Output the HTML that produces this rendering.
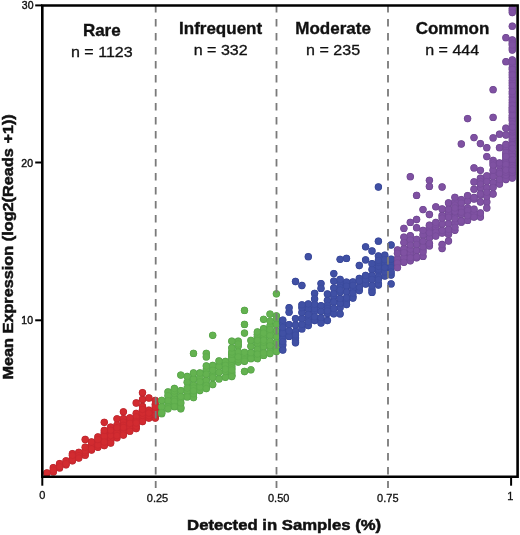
<!DOCTYPE html>
<html><head><meta charset="utf-8"><style>
html,body{margin:0;padding:0;background:#fff;}
body{width:520px;height:535px;overflow:hidden;position:relative;font-family:"Liberation Sans",sans-serif;color:#111;}
svg{position:absolute;left:0;top:0;will-change:transform;}
</style></head><body>
<svg width="520" height="535" viewBox="0 0 520 535" font-family="Liberation Sans, sans-serif">
<g>
<g fill="#b0242b"><circle cx="117.0" cy="437.8" r="3.65"/><circle cx="104.3" cy="444.0" r="3.65"/><circle cx="110.7" cy="437.2" r="3.65"/><circle cx="123.4" cy="430.4" r="3.65"/><circle cx="142.5" cy="418.6" r="3.65"/><circle cx="155.3" cy="400.5" r="3.65"/><circle cx="117.0" cy="418.8" r="3.65"/><circle cx="110.7" cy="432.6" r="3.65"/><circle cx="129.8" cy="429.2" r="3.65"/><circle cx="85.2" cy="455.2" r="3.65"/><circle cx="91.5" cy="450.0" r="3.65"/><circle cx="91.5" cy="445.1" r="3.65"/><circle cx="155.3" cy="410.2" r="3.65"/><circle cx="110.7" cy="440.8" r="3.65"/><circle cx="148.9" cy="410.2" r="3.65"/><circle cx="129.8" cy="427.4" r="3.65"/><circle cx="148.9" cy="418.1" r="3.65"/><circle cx="123.4" cy="418.6" r="3.65"/><circle cx="123.4" cy="422.1" r="3.65"/><circle cx="142.5" cy="399.5" r="3.65"/><circle cx="155.3" cy="404.4" r="3.65"/><circle cx="66.0" cy="464.8" r="3.65"/><circle cx="85.2" cy="452.6" r="3.65"/><circle cx="91.5" cy="448.9" r="3.65"/><circle cx="123.4" cy="433.2" r="3.65"/><circle cx="72.4" cy="458.1" r="3.65"/><circle cx="136.2" cy="403.0" r="3.65"/><circle cx="72.4" cy="460.8" r="3.65"/><circle cx="85.2" cy="450.8" r="3.65"/><circle cx="123.4" cy="425.3" r="3.65"/><circle cx="66.0" cy="460.9" r="3.65"/><circle cx="72.4" cy="459.7" r="3.65"/><circle cx="110.7" cy="438.8" r="3.65"/><circle cx="136.2" cy="413.4" r="3.65"/><circle cx="104.3" cy="438.6" r="3.65"/><circle cx="110.7" cy="435.5" r="3.65"/><circle cx="97.9" cy="443.4" r="3.65"/><circle cx="110.7" cy="427.1" r="3.65"/><circle cx="155.3" cy="411.9" r="3.65"/><circle cx="136.2" cy="418.7" r="3.65"/><circle cx="142.5" cy="406.5" r="3.65"/><circle cx="97.9" cy="447.3" r="3.65"/><circle cx="59.6" cy="463.6" r="3.65"/><circle cx="136.2" cy="416.8" r="3.65"/><circle cx="155.3" cy="418.1" r="3.65"/><circle cx="78.8" cy="454.0" r="3.65"/><circle cx="97.9" cy="445.0" r="3.65"/><circle cx="78.8" cy="452.3" r="3.65"/><circle cx="110.7" cy="430.2" r="3.65"/><circle cx="104.3" cy="432.6" r="3.65"/><circle cx="117.0" cy="430.0" r="3.65"/><circle cx="53.3" cy="467.7" r="3.65"/><circle cx="123.4" cy="427.4" r="3.65"/><circle cx="136.2" cy="428.6" r="3.65"/><circle cx="104.3" cy="434.5" r="3.65"/><circle cx="97.9" cy="437.0" r="3.65"/><circle cx="117.0" cy="432.9" r="3.65"/><circle cx="91.5" cy="442.0" r="3.65"/><circle cx="59.6" cy="467.9" r="3.65"/><circle cx="85.2" cy="439.5" r="3.65"/><circle cx="104.3" cy="445.6" r="3.65"/><circle cx="66.0" cy="463.7" r="3.65"/><circle cx="129.8" cy="421.2" r="3.65"/><circle cx="53.3" cy="471.9" r="3.65"/><circle cx="142.5" cy="421.5" r="3.65"/><circle cx="142.5" cy="392.7" r="3.65"/><circle cx="148.9" cy="415.8" r="3.65"/><circle cx="129.8" cy="431.2" r="3.65"/><circle cx="142.5" cy="415.4" r="3.65"/><circle cx="78.8" cy="455.7" r="3.65"/><circle cx="123.4" cy="411.8" r="3.65"/><circle cx="117.0" cy="435.6" r="3.65"/><circle cx="129.8" cy="417.9" r="3.65"/><circle cx="148.9" cy="398.0" r="3.65"/><circle cx="155.3" cy="407.0" r="3.65"/><circle cx="104.3" cy="436.3" r="3.65"/><circle cx="142.5" cy="413.1" r="3.65"/><circle cx="123.4" cy="435.1" r="3.65"/><circle cx="104.3" cy="422.3" r="3.65"/><circle cx="110.7" cy="443.0" r="3.65"/><circle cx="136.2" cy="426.2" r="3.65"/><circle cx="85.2" cy="447.2" r="3.65"/><circle cx="129.8" cy="423.4" r="3.65"/><circle cx="136.2" cy="421.4" r="3.65"/><circle cx="72.4" cy="453.7" r="3.65"/><circle cx="97.9" cy="439.5" r="3.65"/><circle cx="142.5" cy="409.4" r="3.65"/><circle cx="148.9" cy="413.1" r="3.65"/><circle cx="104.3" cy="442.1" r="3.65"/><circle cx="53.3" cy="470.0" r="3.65"/><circle cx="117.0" cy="425.1" r="3.65"/><circle cx="59.6" cy="466.7" r="3.65"/><circle cx="136.2" cy="423.0" r="3.65"/><circle cx="117.0" cy="427.7" r="3.65"/><circle cx="78.8" cy="458.0" r="3.65"/><circle cx="155.3" cy="415.1" r="3.65"/><circle cx="104.3" cy="430.4" r="3.65"/><circle cx="72.4" cy="455.3" r="3.65"/><circle cx="46.9" cy="473.0" r="3.65"/></g><g fill="#d22b30" stroke="#bf272d" stroke-width="0.35"><circle cx="117.0" cy="437.8" r="3.3"/><circle cx="104.3" cy="444.0" r="3.3"/><circle cx="110.7" cy="437.2" r="3.3"/><circle cx="123.4" cy="430.4" r="3.3"/><circle cx="142.5" cy="418.6" r="3.3"/><circle cx="155.3" cy="400.5" r="3.3"/><circle cx="117.0" cy="418.8" r="3.3"/><circle cx="110.7" cy="432.6" r="3.3"/><circle cx="129.8" cy="429.2" r="3.3"/><circle cx="85.2" cy="455.2" r="3.3"/><circle cx="91.5" cy="450.0" r="3.3"/><circle cx="91.5" cy="445.1" r="3.3"/><circle cx="155.3" cy="410.2" r="3.3"/><circle cx="110.7" cy="440.8" r="3.3"/><circle cx="148.9" cy="410.2" r="3.3"/><circle cx="129.8" cy="427.4" r="3.3"/><circle cx="148.9" cy="418.1" r="3.3"/><circle cx="123.4" cy="418.6" r="3.3"/><circle cx="123.4" cy="422.1" r="3.3"/><circle cx="142.5" cy="399.5" r="3.3"/><circle cx="155.3" cy="404.4" r="3.3"/><circle cx="66.0" cy="464.8" r="3.3"/><circle cx="85.2" cy="452.6" r="3.3"/><circle cx="91.5" cy="448.9" r="3.3"/><circle cx="123.4" cy="433.2" r="3.3"/><circle cx="72.4" cy="458.1" r="3.3"/><circle cx="136.2" cy="403.0" r="3.3"/><circle cx="72.4" cy="460.8" r="3.3"/><circle cx="85.2" cy="450.8" r="3.3"/><circle cx="123.4" cy="425.3" r="3.3"/><circle cx="66.0" cy="460.9" r="3.3"/><circle cx="72.4" cy="459.7" r="3.3"/><circle cx="110.7" cy="438.8" r="3.3"/><circle cx="136.2" cy="413.4" r="3.3"/><circle cx="104.3" cy="438.6" r="3.3"/><circle cx="110.7" cy="435.5" r="3.3"/><circle cx="97.9" cy="443.4" r="3.3"/><circle cx="110.7" cy="427.1" r="3.3"/><circle cx="155.3" cy="411.9" r="3.3"/><circle cx="136.2" cy="418.7" r="3.3"/><circle cx="142.5" cy="406.5" r="3.3"/><circle cx="97.9" cy="447.3" r="3.3"/><circle cx="59.6" cy="463.6" r="3.3"/><circle cx="136.2" cy="416.8" r="3.3"/><circle cx="155.3" cy="418.1" r="3.3"/><circle cx="78.8" cy="454.0" r="3.3"/><circle cx="97.9" cy="445.0" r="3.3"/><circle cx="78.8" cy="452.3" r="3.3"/><circle cx="110.7" cy="430.2" r="3.3"/><circle cx="104.3" cy="432.6" r="3.3"/><circle cx="117.0" cy="430.0" r="3.3"/><circle cx="53.3" cy="467.7" r="3.3"/><circle cx="123.4" cy="427.4" r="3.3"/><circle cx="136.2" cy="428.6" r="3.3"/><circle cx="104.3" cy="434.5" r="3.3"/><circle cx="97.9" cy="437.0" r="3.3"/><circle cx="117.0" cy="432.9" r="3.3"/><circle cx="91.5" cy="442.0" r="3.3"/><circle cx="59.6" cy="467.9" r="3.3"/><circle cx="85.2" cy="439.5" r="3.3"/><circle cx="104.3" cy="445.6" r="3.3"/><circle cx="66.0" cy="463.7" r="3.3"/><circle cx="129.8" cy="421.2" r="3.3"/><circle cx="53.3" cy="471.9" r="3.3"/><circle cx="142.5" cy="421.5" r="3.3"/><circle cx="142.5" cy="392.7" r="3.3"/><circle cx="148.9" cy="415.8" r="3.3"/><circle cx="129.8" cy="431.2" r="3.3"/><circle cx="142.5" cy="415.4" r="3.3"/><circle cx="78.8" cy="455.7" r="3.3"/><circle cx="123.4" cy="411.8" r="3.3"/><circle cx="117.0" cy="435.6" r="3.3"/><circle cx="129.8" cy="417.9" r="3.3"/><circle cx="148.9" cy="398.0" r="3.3"/><circle cx="155.3" cy="407.0" r="3.3"/><circle cx="104.3" cy="436.3" r="3.3"/><circle cx="142.5" cy="413.1" r="3.3"/><circle cx="123.4" cy="435.1" r="3.3"/><circle cx="104.3" cy="422.3" r="3.3"/><circle cx="110.7" cy="443.0" r="3.3"/><circle cx="136.2" cy="426.2" r="3.3"/><circle cx="85.2" cy="447.2" r="3.3"/><circle cx="129.8" cy="423.4" r="3.3"/><circle cx="136.2" cy="421.4" r="3.3"/><circle cx="72.4" cy="453.7" r="3.3"/><circle cx="97.9" cy="439.5" r="3.3"/><circle cx="142.5" cy="409.4" r="3.3"/><circle cx="148.9" cy="413.1" r="3.3"/><circle cx="104.3" cy="442.1" r="3.3"/><circle cx="53.3" cy="470.0" r="3.3"/><circle cx="117.0" cy="425.1" r="3.3"/><circle cx="59.6" cy="466.7" r="3.3"/><circle cx="136.2" cy="423.0" r="3.3"/><circle cx="117.0" cy="427.7" r="3.3"/><circle cx="78.8" cy="458.0" r="3.3"/><circle cx="155.3" cy="415.1" r="3.3"/><circle cx="104.3" cy="430.4" r="3.3"/><circle cx="72.4" cy="455.3" r="3.3"/><circle cx="46.9" cy="473.0" r="3.3"/></g><g fill="#4c9a40"><circle cx="180.8" cy="408.8" r="3.65"/><circle cx="180.8" cy="407.4" r="3.65"/><circle cx="257.3" cy="358.7" r="3.65"/><circle cx="238.2" cy="362.0" r="3.65"/><circle cx="231.8" cy="375.2" r="3.65"/><circle cx="250.9" cy="356.8" r="3.65"/><circle cx="212.7" cy="365.5" r="3.65"/><circle cx="270.0" cy="333.1" r="3.65"/><circle cx="257.3" cy="343.6" r="3.65"/><circle cx="238.2" cy="341.2" r="3.65"/><circle cx="257.3" cy="336.8" r="3.65"/><circle cx="168.0" cy="402.8" r="3.65"/><circle cx="187.2" cy="376.5" r="3.65"/><circle cx="263.6" cy="346.7" r="3.65"/><circle cx="276.4" cy="315.9" r="3.65"/><circle cx="263.6" cy="328.7" r="3.65"/><circle cx="199.9" cy="377.2" r="3.65"/><circle cx="193.5" cy="379.0" r="3.65"/><circle cx="180.8" cy="398.9" r="3.65"/><circle cx="206.3" cy="369.7" r="3.65"/><circle cx="270.0" cy="351.2" r="3.65"/><circle cx="193.5" cy="397.6" r="3.65"/><circle cx="257.3" cy="352.0" r="3.65"/><circle cx="231.8" cy="356.6" r="3.65"/><circle cx="168.0" cy="392.0" r="3.65"/><circle cx="257.3" cy="349.3" r="3.65"/><circle cx="250.9" cy="369.8" r="3.65"/><circle cx="219.0" cy="378.9" r="3.65"/><circle cx="263.6" cy="355.4" r="3.65"/><circle cx="231.8" cy="372.7" r="3.65"/><circle cx="238.2" cy="346.1" r="3.65"/><circle cx="225.4" cy="377.3" r="3.65"/><circle cx="187.2" cy="395.2" r="3.65"/><circle cx="263.6" cy="335.7" r="3.65"/><circle cx="238.2" cy="352.0" r="3.65"/><circle cx="168.0" cy="395.7" r="3.65"/><circle cx="174.4" cy="398.7" r="3.65"/><circle cx="238.2" cy="359.5" r="3.65"/><circle cx="250.9" cy="358.7" r="3.65"/><circle cx="231.8" cy="362.3" r="3.65"/><circle cx="231.8" cy="359.5" r="3.65"/><circle cx="250.9" cy="346.2" r="3.65"/><circle cx="244.5" cy="355.9" r="3.65"/><circle cx="174.4" cy="393.3" r="3.65"/><circle cx="250.9" cy="352.7" r="3.65"/><circle cx="231.8" cy="354.3" r="3.65"/><circle cx="270.0" cy="335.8" r="3.65"/><circle cx="276.4" cy="293.8" r="3.65"/><circle cx="231.8" cy="365.8" r="3.65"/><circle cx="244.5" cy="371.5" r="3.65"/><circle cx="270.0" cy="353.5" r="3.65"/><circle cx="238.2" cy="356.8" r="3.65"/><circle cx="257.3" cy="334.4" r="3.65"/><circle cx="212.7" cy="384.5" r="3.65"/><circle cx="168.0" cy="400.7" r="3.65"/><circle cx="270.0" cy="326.2" r="3.65"/><circle cx="244.5" cy="310.4" r="3.65"/><circle cx="212.7" cy="375.3" r="3.65"/><circle cx="180.8" cy="390.6" r="3.65"/><circle cx="257.3" cy="332.0" r="3.65"/><circle cx="187.2" cy="391.3" r="3.65"/><circle cx="219.0" cy="366.5" r="3.65"/><circle cx="180.8" cy="375.1" r="3.65"/><circle cx="263.6" cy="333.1" r="3.65"/><circle cx="263.6" cy="342.3" r="3.65"/><circle cx="276.4" cy="336.8" r="3.65"/><circle cx="168.0" cy="406.9" r="3.65"/><circle cx="206.3" cy="380.5" r="3.65"/><circle cx="193.5" cy="385.3" r="3.65"/><circle cx="270.0" cy="329.4" r="3.65"/><circle cx="161.7" cy="406.9" r="3.65"/><circle cx="187.2" cy="382.2" r="3.65"/><circle cx="231.8" cy="341.2" r="3.65"/><circle cx="244.5" cy="324.4" r="3.65"/><circle cx="199.9" cy="390.5" r="3.65"/><circle cx="199.9" cy="385.0" r="3.65"/><circle cx="244.5" cy="359.5" r="3.65"/><circle cx="199.9" cy="387.0" r="3.65"/><circle cx="174.4" cy="404.4" r="3.65"/><circle cx="199.9" cy="381.8" r="3.65"/><circle cx="206.3" cy="385.6" r="3.65"/><circle cx="206.3" cy="366.0" r="3.65"/><circle cx="212.7" cy="370.3" r="3.65"/><circle cx="257.3" cy="354.1" r="3.65"/><circle cx="199.9" cy="373.0" r="3.65"/><circle cx="270.0" cy="314.1" r="3.65"/><circle cx="263.6" cy="353.1" r="3.65"/><circle cx="244.5" cy="352.3" r="3.65"/><circle cx="244.5" cy="333.1" r="3.65"/><circle cx="161.7" cy="400.4" r="3.65"/><circle cx="180.8" cy="402.9" r="3.65"/><circle cx="161.7" cy="413.7" r="3.65"/><circle cx="206.3" cy="353.4" r="3.65"/><circle cx="225.4" cy="361.5" r="3.65"/><circle cx="225.4" cy="365.3" r="3.65"/><circle cx="187.2" cy="396.9" r="3.65"/><circle cx="276.4" cy="342.5" r="3.65"/><circle cx="244.5" cy="361.3" r="3.65"/><circle cx="174.4" cy="401.3" r="3.65"/><circle cx="193.5" cy="393.8" r="3.65"/><circle cx="225.4" cy="371.5" r="3.65"/><circle cx="238.2" cy="344.0" r="3.65"/><circle cx="231.8" cy="376.5" r="3.65"/><circle cx="174.4" cy="406.7" r="3.65"/><circle cx="206.3" cy="374.2" r="3.65"/><circle cx="193.5" cy="388.0" r="3.65"/><circle cx="231.8" cy="352.0" r="3.65"/><circle cx="250.9" cy="340.4" r="3.65"/><circle cx="180.8" cy="396.5" r="3.65"/><circle cx="174.4" cy="391.0" r="3.65"/><circle cx="276.4" cy="348.1" r="3.65"/><circle cx="270.0" cy="341.3" r="3.65"/><circle cx="263.6" cy="340.2" r="3.65"/><circle cx="187.2" cy="388.1" r="3.65"/><circle cx="206.3" cy="388.5" r="3.65"/><circle cx="193.5" cy="390.8" r="3.65"/><circle cx="212.7" cy="335.3" r="3.65"/><circle cx="225.4" cy="369.1" r="3.65"/><circle cx="257.3" cy="340.4" r="3.65"/><circle cx="168.0" cy="408.8" r="3.65"/><circle cx="219.0" cy="361.0" r="3.65"/><circle cx="193.5" cy="353.4" r="3.65"/><circle cx="161.7" cy="412.6" r="3.65"/><circle cx="219.0" cy="372.4" r="3.65"/><circle cx="276.4" cy="318.9" r="3.65"/><circle cx="174.4" cy="388.5" r="3.65"/><circle cx="276.4" cy="351.5" r="3.65"/><circle cx="231.8" cy="348.0" r="3.65"/><circle cx="206.3" cy="356.9" r="3.65"/><circle cx="193.5" cy="373.0" r="3.65"/><circle cx="276.4" cy="324.6" r="3.65"/><circle cx="270.0" cy="321.1" r="3.65"/><circle cx="263.6" cy="319.3" r="3.65"/><circle cx="231.8" cy="368.0" r="3.65"/><circle cx="276.4" cy="331.0" r="3.65"/><circle cx="231.8" cy="370.0" r="3.65"/><circle cx="270.0" cy="345.7" r="3.65"/><circle cx="212.7" cy="377.6" r="3.65"/></g><g fill="#64b250" stroke="#57a547" stroke-width="0.35"><circle cx="180.8" cy="408.8" r="3.3"/><circle cx="180.8" cy="407.4" r="3.3"/><circle cx="257.3" cy="358.7" r="3.3"/><circle cx="238.2" cy="362.0" r="3.3"/><circle cx="231.8" cy="375.2" r="3.3"/><circle cx="250.9" cy="356.8" r="3.3"/><circle cx="212.7" cy="365.5" r="3.3"/><circle cx="270.0" cy="333.1" r="3.3"/><circle cx="257.3" cy="343.6" r="3.3"/><circle cx="238.2" cy="341.2" r="3.3"/><circle cx="257.3" cy="336.8" r="3.3"/><circle cx="168.0" cy="402.8" r="3.3"/><circle cx="187.2" cy="376.5" r="3.3"/><circle cx="263.6" cy="346.7" r="3.3"/><circle cx="276.4" cy="315.9" r="3.3"/><circle cx="263.6" cy="328.7" r="3.3"/><circle cx="199.9" cy="377.2" r="3.3"/><circle cx="193.5" cy="379.0" r="3.3"/><circle cx="180.8" cy="398.9" r="3.3"/><circle cx="206.3" cy="369.7" r="3.3"/><circle cx="270.0" cy="351.2" r="3.3"/><circle cx="193.5" cy="397.6" r="3.3"/><circle cx="257.3" cy="352.0" r="3.3"/><circle cx="231.8" cy="356.6" r="3.3"/><circle cx="168.0" cy="392.0" r="3.3"/><circle cx="257.3" cy="349.3" r="3.3"/><circle cx="250.9" cy="369.8" r="3.3"/><circle cx="219.0" cy="378.9" r="3.3"/><circle cx="263.6" cy="355.4" r="3.3"/><circle cx="231.8" cy="372.7" r="3.3"/><circle cx="238.2" cy="346.1" r="3.3"/><circle cx="225.4" cy="377.3" r="3.3"/><circle cx="187.2" cy="395.2" r="3.3"/><circle cx="263.6" cy="335.7" r="3.3"/><circle cx="238.2" cy="352.0" r="3.3"/><circle cx="168.0" cy="395.7" r="3.3"/><circle cx="174.4" cy="398.7" r="3.3"/><circle cx="238.2" cy="359.5" r="3.3"/><circle cx="250.9" cy="358.7" r="3.3"/><circle cx="231.8" cy="362.3" r="3.3"/><circle cx="231.8" cy="359.5" r="3.3"/><circle cx="250.9" cy="346.2" r="3.3"/><circle cx="244.5" cy="355.9" r="3.3"/><circle cx="174.4" cy="393.3" r="3.3"/><circle cx="250.9" cy="352.7" r="3.3"/><circle cx="231.8" cy="354.3" r="3.3"/><circle cx="270.0" cy="335.8" r="3.3"/><circle cx="276.4" cy="293.8" r="3.3"/><circle cx="231.8" cy="365.8" r="3.3"/><circle cx="244.5" cy="371.5" r="3.3"/><circle cx="270.0" cy="353.5" r="3.3"/><circle cx="238.2" cy="356.8" r="3.3"/><circle cx="257.3" cy="334.4" r="3.3"/><circle cx="212.7" cy="384.5" r="3.3"/><circle cx="168.0" cy="400.7" r="3.3"/><circle cx="270.0" cy="326.2" r="3.3"/><circle cx="244.5" cy="310.4" r="3.3"/><circle cx="212.7" cy="375.3" r="3.3"/><circle cx="180.8" cy="390.6" r="3.3"/><circle cx="257.3" cy="332.0" r="3.3"/><circle cx="187.2" cy="391.3" r="3.3"/><circle cx="219.0" cy="366.5" r="3.3"/><circle cx="180.8" cy="375.1" r="3.3"/><circle cx="263.6" cy="333.1" r="3.3"/><circle cx="263.6" cy="342.3" r="3.3"/><circle cx="276.4" cy="336.8" r="3.3"/><circle cx="168.0" cy="406.9" r="3.3"/><circle cx="206.3" cy="380.5" r="3.3"/><circle cx="193.5" cy="385.3" r="3.3"/><circle cx="270.0" cy="329.4" r="3.3"/><circle cx="161.7" cy="406.9" r="3.3"/><circle cx="187.2" cy="382.2" r="3.3"/><circle cx="231.8" cy="341.2" r="3.3"/><circle cx="244.5" cy="324.4" r="3.3"/><circle cx="199.9" cy="390.5" r="3.3"/><circle cx="199.9" cy="385.0" r="3.3"/><circle cx="244.5" cy="359.5" r="3.3"/><circle cx="199.9" cy="387.0" r="3.3"/><circle cx="174.4" cy="404.4" r="3.3"/><circle cx="199.9" cy="381.8" r="3.3"/><circle cx="206.3" cy="385.6" r="3.3"/><circle cx="206.3" cy="366.0" r="3.3"/><circle cx="212.7" cy="370.3" r="3.3"/><circle cx="257.3" cy="354.1" r="3.3"/><circle cx="199.9" cy="373.0" r="3.3"/><circle cx="270.0" cy="314.1" r="3.3"/><circle cx="263.6" cy="353.1" r="3.3"/><circle cx="244.5" cy="352.3" r="3.3"/><circle cx="244.5" cy="333.1" r="3.3"/><circle cx="161.7" cy="400.4" r="3.3"/><circle cx="180.8" cy="402.9" r="3.3"/><circle cx="161.7" cy="413.7" r="3.3"/><circle cx="206.3" cy="353.4" r="3.3"/><circle cx="225.4" cy="361.5" r="3.3"/><circle cx="225.4" cy="365.3" r="3.3"/><circle cx="187.2" cy="396.9" r="3.3"/><circle cx="276.4" cy="342.5" r="3.3"/><circle cx="244.5" cy="361.3" r="3.3"/><circle cx="174.4" cy="401.3" r="3.3"/><circle cx="193.5" cy="393.8" r="3.3"/><circle cx="225.4" cy="371.5" r="3.3"/><circle cx="238.2" cy="344.0" r="3.3"/><circle cx="231.8" cy="376.5" r="3.3"/><circle cx="174.4" cy="406.7" r="3.3"/><circle cx="206.3" cy="374.2" r="3.3"/><circle cx="193.5" cy="388.0" r="3.3"/><circle cx="231.8" cy="352.0" r="3.3"/><circle cx="250.9" cy="340.4" r="3.3"/><circle cx="180.8" cy="396.5" r="3.3"/><circle cx="174.4" cy="391.0" r="3.3"/><circle cx="276.4" cy="348.1" r="3.3"/><circle cx="270.0" cy="341.3" r="3.3"/><circle cx="263.6" cy="340.2" r="3.3"/><circle cx="187.2" cy="388.1" r="3.3"/><circle cx="206.3" cy="388.5" r="3.3"/><circle cx="193.5" cy="390.8" r="3.3"/><circle cx="212.7" cy="335.3" r="3.3"/><circle cx="225.4" cy="369.1" r="3.3"/><circle cx="257.3" cy="340.4" r="3.3"/><circle cx="168.0" cy="408.8" r="3.3"/><circle cx="219.0" cy="361.0" r="3.3"/><circle cx="193.5" cy="353.4" r="3.3"/><circle cx="161.7" cy="412.6" r="3.3"/><circle cx="219.0" cy="372.4" r="3.3"/><circle cx="276.4" cy="318.9" r="3.3"/><circle cx="174.4" cy="388.5" r="3.3"/><circle cx="276.4" cy="351.5" r="3.3"/><circle cx="231.8" cy="348.0" r="3.3"/><circle cx="206.3" cy="356.9" r="3.3"/><circle cx="193.5" cy="373.0" r="3.3"/><circle cx="276.4" cy="324.6" r="3.3"/><circle cx="270.0" cy="321.1" r="3.3"/><circle cx="263.6" cy="319.3" r="3.3"/><circle cx="231.8" cy="368.0" r="3.3"/><circle cx="276.4" cy="331.0" r="3.3"/><circle cx="231.8" cy="370.0" r="3.3"/><circle cx="270.0" cy="345.7" r="3.3"/><circle cx="212.7" cy="377.6" r="3.3"/></g><g fill="#323f90"><circle cx="340.1" cy="283.0" r="3.65"/><circle cx="308.3" cy="308.9" r="3.65"/><circle cx="282.8" cy="323.1" r="3.65"/><circle cx="295.5" cy="341.0" r="3.65"/><circle cx="333.8" cy="281.1" r="3.65"/><circle cx="340.1" cy="287.4" r="3.65"/><circle cx="295.5" cy="331.3" r="3.65"/><circle cx="282.8" cy="331.0" r="3.65"/><circle cx="295.5" cy="281.5" r="3.65"/><circle cx="384.8" cy="263.2" r="3.65"/><circle cx="359.3" cy="290.6" r="3.65"/><circle cx="295.5" cy="338.0" r="3.65"/><circle cx="352.9" cy="296.2" r="3.65"/><circle cx="352.9" cy="282.0" r="3.65"/><circle cx="333.8" cy="273.6" r="3.65"/><circle cx="391.1" cy="265.0" r="3.65"/><circle cx="308.3" cy="256.7" r="3.65"/><circle cx="359.3" cy="278.5" r="3.65"/><circle cx="289.1" cy="312.2" r="3.65"/><circle cx="327.4" cy="300.3" r="3.65"/><circle cx="289.1" cy="324.6" r="3.65"/><circle cx="378.4" cy="285.0" r="3.65"/><circle cx="327.4" cy="320.5" r="3.65"/><circle cx="378.4" cy="271.3" r="3.65"/><circle cx="295.5" cy="325.0" r="3.65"/><circle cx="372.0" cy="289.7" r="3.65"/><circle cx="346.5" cy="300.6" r="3.65"/><circle cx="314.6" cy="293.4" r="3.65"/><circle cx="378.4" cy="269.2" r="3.65"/><circle cx="321.0" cy="305.7" r="3.65"/><circle cx="333.8" cy="296.3" r="3.65"/><circle cx="384.8" cy="276.0" r="3.65"/><circle cx="289.1" cy="334.9" r="3.65"/><circle cx="314.6" cy="311.3" r="3.65"/><circle cx="346.5" cy="282.1" r="3.65"/><circle cx="340.1" cy="313.9" r="3.65"/><circle cx="365.6" cy="259.9" r="3.65"/><circle cx="352.9" cy="298.1" r="3.65"/><circle cx="340.1" cy="307.8" r="3.65"/><circle cx="346.5" cy="286.1" r="3.65"/><circle cx="378.4" cy="241.2" r="3.65"/><circle cx="378.4" cy="283.8" r="3.65"/><circle cx="365.6" cy="246.8" r="3.65"/><circle cx="391.1" cy="283.9" r="3.65"/><circle cx="384.8" cy="255.2" r="3.65"/><circle cx="308.3" cy="325.6" r="3.65"/><circle cx="289.1" cy="307.7" r="3.65"/><circle cx="282.8" cy="345.0" r="3.65"/><circle cx="372.0" cy="269.4" r="3.65"/><circle cx="346.5" cy="292.0" r="3.65"/><circle cx="391.1" cy="245.0" r="3.65"/><circle cx="365.6" cy="284.0" r="3.65"/><circle cx="282.8" cy="335.3" r="3.65"/><circle cx="301.9" cy="328.9" r="3.65"/><circle cx="378.4" cy="276.9" r="3.65"/><circle cx="340.1" cy="259.3" r="3.65"/><circle cx="314.6" cy="308.4" r="3.65"/><circle cx="314.6" cy="320.5" r="3.65"/><circle cx="372.0" cy="251.0" r="3.65"/><circle cx="372.0" cy="263.7" r="3.65"/><circle cx="282.8" cy="338.6" r="3.65"/><circle cx="372.0" cy="275.5" r="3.65"/><circle cx="391.1" cy="275.0" r="3.65"/><circle cx="359.3" cy="287.2" r="3.65"/><circle cx="295.5" cy="335.0" r="3.65"/><circle cx="301.9" cy="324.4" r="3.65"/><circle cx="289.1" cy="336.4" r="3.65"/><circle cx="352.9" cy="288.4" r="3.65"/><circle cx="346.5" cy="258.4" r="3.65"/><circle cx="333.8" cy="288.0" r="3.65"/><circle cx="359.3" cy="281.1" r="3.65"/><circle cx="321.0" cy="283.6" r="3.65"/><circle cx="282.8" cy="350.0" r="3.65"/><circle cx="282.8" cy="320.1" r="3.65"/><circle cx="333.8" cy="302.0" r="3.65"/><circle cx="333.8" cy="293.6" r="3.65"/><circle cx="327.4" cy="305.5" r="3.65"/><circle cx="282.8" cy="333.2" r="3.65"/><circle cx="359.3" cy="265.5" r="3.65"/><circle cx="378.4" cy="266.4" r="3.65"/><circle cx="314.6" cy="298.9" r="3.65"/><circle cx="327.4" cy="308.3" r="3.65"/><circle cx="327.4" cy="313.5" r="3.65"/><circle cx="346.5" cy="304.5" r="3.65"/><circle cx="321.0" cy="288.4" r="3.65"/><circle cx="378.4" cy="256.0" r="3.65"/><circle cx="384.8" cy="272.0" r="3.65"/><circle cx="372.0" cy="279.4" r="3.65"/><circle cx="378.4" cy="187.0" r="3.65"/><circle cx="301.9" cy="318.6" r="3.65"/><circle cx="346.5" cy="297.7" r="3.65"/><circle cx="372.0" cy="292.4" r="3.65"/><circle cx="333.8" cy="313.8" r="3.65"/><circle cx="352.9" cy="293.0" r="3.65"/><circle cx="295.5" cy="318.6" r="3.65"/><circle cx="321.0" cy="311.3" r="3.65"/><circle cx="340.1" cy="303.4" r="3.65"/><circle cx="391.1" cy="267.5" r="3.65"/><circle cx="333.8" cy="308.4" r="3.65"/><circle cx="282.8" cy="341.7" r="3.65"/><circle cx="365.6" cy="279.6" r="3.65"/><circle cx="384.8" cy="259.7" r="3.65"/><circle cx="308.3" cy="316.9" r="3.65"/><circle cx="321.0" cy="321.5" r="3.65"/><circle cx="301.9" cy="312.5" r="3.65"/><circle cx="340.1" cy="279.4" r="3.65"/><circle cx="378.4" cy="262.4" r="3.65"/><circle cx="391.1" cy="272.0" r="3.65"/><circle cx="321.0" cy="323.0" r="3.65"/><circle cx="327.4" cy="294.0" r="3.65"/><circle cx="365.6" cy="275.5" r="3.65"/><circle cx="282.8" cy="327.4" r="3.65"/><circle cx="301.9" cy="307.7" r="3.65"/><circle cx="340.1" cy="298.5" r="3.65"/><circle cx="372.0" cy="285.5" r="3.65"/><circle cx="308.3" cy="314.5" r="3.65"/><circle cx="321.0" cy="317.7" r="3.65"/><circle cx="301.9" cy="285.5" r="3.65"/><circle cx="314.6" cy="304.3" r="3.65"/><circle cx="384.8" cy="267.5" r="3.65"/><circle cx="340.1" cy="292.1" r="3.65"/><circle cx="314.6" cy="316.8" r="3.65"/><circle cx="295.5" cy="342.8" r="3.65"/><circle cx="289.1" cy="330.9" r="3.65"/><circle cx="308.3" cy="304.0" r="3.65"/><circle cx="301.9" cy="304.8" r="3.65"/><circle cx="340.1" cy="290.0" r="3.65"/><circle cx="308.3" cy="321.9" r="3.65"/><circle cx="378.4" cy="260.4" r="3.65"/><circle cx="391.1" cy="259.2" r="3.65"/><circle cx="352.9" cy="285.3" r="3.65"/><circle cx="378.4" cy="279.6" r="3.65"/><circle cx="327.4" cy="310.9" r="3.65"/></g><g fill="#4050a4" stroke="#384799" stroke-width="0.35"><circle cx="340.1" cy="283.0" r="3.3"/><circle cx="308.3" cy="308.9" r="3.3"/><circle cx="282.8" cy="323.1" r="3.3"/><circle cx="295.5" cy="341.0" r="3.3"/><circle cx="333.8" cy="281.1" r="3.3"/><circle cx="340.1" cy="287.4" r="3.3"/><circle cx="295.5" cy="331.3" r="3.3"/><circle cx="282.8" cy="331.0" r="3.3"/><circle cx="295.5" cy="281.5" r="3.3"/><circle cx="384.8" cy="263.2" r="3.3"/><circle cx="359.3" cy="290.6" r="3.3"/><circle cx="295.5" cy="338.0" r="3.3"/><circle cx="352.9" cy="296.2" r="3.3"/><circle cx="352.9" cy="282.0" r="3.3"/><circle cx="333.8" cy="273.6" r="3.3"/><circle cx="391.1" cy="265.0" r="3.3"/><circle cx="308.3" cy="256.7" r="3.3"/><circle cx="359.3" cy="278.5" r="3.3"/><circle cx="289.1" cy="312.2" r="3.3"/><circle cx="327.4" cy="300.3" r="3.3"/><circle cx="289.1" cy="324.6" r="3.3"/><circle cx="378.4" cy="285.0" r="3.3"/><circle cx="327.4" cy="320.5" r="3.3"/><circle cx="378.4" cy="271.3" r="3.3"/><circle cx="295.5" cy="325.0" r="3.3"/><circle cx="372.0" cy="289.7" r="3.3"/><circle cx="346.5" cy="300.6" r="3.3"/><circle cx="314.6" cy="293.4" r="3.3"/><circle cx="378.4" cy="269.2" r="3.3"/><circle cx="321.0" cy="305.7" r="3.3"/><circle cx="333.8" cy="296.3" r="3.3"/><circle cx="384.8" cy="276.0" r="3.3"/><circle cx="289.1" cy="334.9" r="3.3"/><circle cx="314.6" cy="311.3" r="3.3"/><circle cx="346.5" cy="282.1" r="3.3"/><circle cx="340.1" cy="313.9" r="3.3"/><circle cx="365.6" cy="259.9" r="3.3"/><circle cx="352.9" cy="298.1" r="3.3"/><circle cx="340.1" cy="307.8" r="3.3"/><circle cx="346.5" cy="286.1" r="3.3"/><circle cx="378.4" cy="241.2" r="3.3"/><circle cx="378.4" cy="283.8" r="3.3"/><circle cx="365.6" cy="246.8" r="3.3"/><circle cx="391.1" cy="283.9" r="3.3"/><circle cx="384.8" cy="255.2" r="3.3"/><circle cx="308.3" cy="325.6" r="3.3"/><circle cx="289.1" cy="307.7" r="3.3"/><circle cx="282.8" cy="345.0" r="3.3"/><circle cx="372.0" cy="269.4" r="3.3"/><circle cx="346.5" cy="292.0" r="3.3"/><circle cx="391.1" cy="245.0" r="3.3"/><circle cx="365.6" cy="284.0" r="3.3"/><circle cx="282.8" cy="335.3" r="3.3"/><circle cx="301.9" cy="328.9" r="3.3"/><circle cx="378.4" cy="276.9" r="3.3"/><circle cx="340.1" cy="259.3" r="3.3"/><circle cx="314.6" cy="308.4" r="3.3"/><circle cx="314.6" cy="320.5" r="3.3"/><circle cx="372.0" cy="251.0" r="3.3"/><circle cx="372.0" cy="263.7" r="3.3"/><circle cx="282.8" cy="338.6" r="3.3"/><circle cx="372.0" cy="275.5" r="3.3"/><circle cx="391.1" cy="275.0" r="3.3"/><circle cx="359.3" cy="287.2" r="3.3"/><circle cx="295.5" cy="335.0" r="3.3"/><circle cx="301.9" cy="324.4" r="3.3"/><circle cx="289.1" cy="336.4" r="3.3"/><circle cx="352.9" cy="288.4" r="3.3"/><circle cx="346.5" cy="258.4" r="3.3"/><circle cx="333.8" cy="288.0" r="3.3"/><circle cx="359.3" cy="281.1" r="3.3"/><circle cx="321.0" cy="283.6" r="3.3"/><circle cx="282.8" cy="350.0" r="3.3"/><circle cx="282.8" cy="320.1" r="3.3"/><circle cx="333.8" cy="302.0" r="3.3"/><circle cx="333.8" cy="293.6" r="3.3"/><circle cx="327.4" cy="305.5" r="3.3"/><circle cx="282.8" cy="333.2" r="3.3"/><circle cx="359.3" cy="265.5" r="3.3"/><circle cx="378.4" cy="266.4" r="3.3"/><circle cx="314.6" cy="298.9" r="3.3"/><circle cx="327.4" cy="308.3" r="3.3"/><circle cx="327.4" cy="313.5" r="3.3"/><circle cx="346.5" cy="304.5" r="3.3"/><circle cx="321.0" cy="288.4" r="3.3"/><circle cx="378.4" cy="256.0" r="3.3"/><circle cx="384.8" cy="272.0" r="3.3"/><circle cx="372.0" cy="279.4" r="3.3"/><circle cx="378.4" cy="187.0" r="3.3"/><circle cx="301.9" cy="318.6" r="3.3"/><circle cx="346.5" cy="297.7" r="3.3"/><circle cx="372.0" cy="292.4" r="3.3"/><circle cx="333.8" cy="313.8" r="3.3"/><circle cx="352.9" cy="293.0" r="3.3"/><circle cx="295.5" cy="318.6" r="3.3"/><circle cx="321.0" cy="311.3" r="3.3"/><circle cx="340.1" cy="303.4" r="3.3"/><circle cx="391.1" cy="267.5" r="3.3"/><circle cx="333.8" cy="308.4" r="3.3"/><circle cx="282.8" cy="341.7" r="3.3"/><circle cx="365.6" cy="279.6" r="3.3"/><circle cx="384.8" cy="259.7" r="3.3"/><circle cx="308.3" cy="316.9" r="3.3"/><circle cx="321.0" cy="321.5" r="3.3"/><circle cx="301.9" cy="312.5" r="3.3"/><circle cx="340.1" cy="279.4" r="3.3"/><circle cx="378.4" cy="262.4" r="3.3"/><circle cx="391.1" cy="272.0" r="3.3"/><circle cx="321.0" cy="323.0" r="3.3"/><circle cx="327.4" cy="294.0" r="3.3"/><circle cx="365.6" cy="275.5" r="3.3"/><circle cx="282.8" cy="327.4" r="3.3"/><circle cx="301.9" cy="307.7" r="3.3"/><circle cx="340.1" cy="298.5" r="3.3"/><circle cx="372.0" cy="285.5" r="3.3"/><circle cx="308.3" cy="314.5" r="3.3"/><circle cx="321.0" cy="317.7" r="3.3"/><circle cx="301.9" cy="285.5" r="3.3"/><circle cx="314.6" cy="304.3" r="3.3"/><circle cx="384.8" cy="267.5" r="3.3"/><circle cx="340.1" cy="292.1" r="3.3"/><circle cx="314.6" cy="316.8" r="3.3"/><circle cx="295.5" cy="342.8" r="3.3"/><circle cx="289.1" cy="330.9" r="3.3"/><circle cx="308.3" cy="304.0" r="3.3"/><circle cx="301.9" cy="304.8" r="3.3"/><circle cx="340.1" cy="290.0" r="3.3"/><circle cx="308.3" cy="321.9" r="3.3"/><circle cx="378.4" cy="260.4" r="3.3"/><circle cx="391.1" cy="259.2" r="3.3"/><circle cx="352.9" cy="285.3" r="3.3"/><circle cx="378.4" cy="279.6" r="3.3"/><circle cx="327.4" cy="310.9" r="3.3"/></g><g fill="#674088"><circle cx="505.9" cy="154.7" r="3.65"/><circle cx="505.9" cy="149.3" r="3.65"/><circle cx="486.8" cy="202.0" r="3.65"/><circle cx="448.5" cy="234.2" r="3.65"/><circle cx="499.5" cy="165.4" r="3.65"/><circle cx="505.9" cy="166.1" r="3.65"/><circle cx="512.3" cy="174.6" r="3.65"/><circle cx="486.8" cy="187.8" r="3.65"/><circle cx="512.3" cy="67.7" r="3.65"/><circle cx="512.3" cy="41.5" r="3.65"/><circle cx="499.5" cy="171.2" r="3.65"/><circle cx="480.4" cy="187.9" r="3.65"/><circle cx="493.1" cy="182.6" r="3.65"/><circle cx="512.3" cy="82.9" r="3.65"/><circle cx="416.6" cy="239.4" r="3.65"/><circle cx="493.1" cy="174.1" r="3.65"/><circle cx="474.0" cy="213.0" r="3.65"/><circle cx="448.5" cy="241.0" r="3.65"/><circle cx="512.3" cy="140.4" r="3.65"/><circle cx="512.3" cy="142.8" r="3.65"/><circle cx="397.5" cy="258.7" r="3.65"/><circle cx="448.5" cy="202.9" r="3.65"/><circle cx="499.5" cy="134.2" r="3.65"/><circle cx="474.0" cy="167.9" r="3.65"/><circle cx="403.9" cy="257.5" r="3.65"/><circle cx="512.3" cy="107.3" r="3.65"/><circle cx="448.5" cy="213.0" r="3.65"/><circle cx="429.4" cy="214.5" r="3.65"/><circle cx="461.3" cy="222.2" r="3.65"/><circle cx="499.5" cy="184.0" r="3.65"/><circle cx="505.9" cy="37.7" r="3.65"/><circle cx="499.5" cy="163.0" r="3.65"/><circle cx="505.9" cy="146.7" r="3.65"/><circle cx="512.3" cy="138.6" r="3.65"/><circle cx="461.3" cy="207.9" r="3.65"/><circle cx="512.3" cy="161.8" r="3.65"/><circle cx="512.3" cy="60.0" r="3.65"/><circle cx="512.3" cy="134.1" r="3.65"/><circle cx="512.3" cy="97.1" r="3.65"/><circle cx="410.3" cy="260.8" r="3.65"/><circle cx="505.9" cy="177.3" r="3.65"/><circle cx="480.4" cy="195.2" r="3.65"/><circle cx="512.3" cy="154.3" r="3.65"/><circle cx="512.3" cy="136.1" r="3.65"/><circle cx="493.1" cy="176.4" r="3.65"/><circle cx="512.3" cy="110.6" r="3.65"/><circle cx="448.5" cy="223.6" r="3.65"/><circle cx="512.3" cy="80.6" r="3.65"/><circle cx="403.9" cy="228.4" r="3.65"/><circle cx="512.3" cy="10.4" r="3.65"/><circle cx="429.4" cy="180.3" r="3.65"/><circle cx="448.5" cy="232.1" r="3.65"/><circle cx="416.6" cy="219.5" r="3.65"/><circle cx="467.6" cy="201.0" r="3.65"/><circle cx="474.0" cy="181.9" r="3.65"/><circle cx="512.3" cy="178.0" r="3.65"/><circle cx="429.4" cy="230.6" r="3.65"/><circle cx="461.3" cy="214.5" r="3.65"/><circle cx="454.9" cy="201.6" r="3.65"/><circle cx="512.3" cy="64.3" r="3.65"/><circle cx="512.3" cy="112.3" r="3.65"/><circle cx="505.9" cy="161.0" r="3.65"/><circle cx="454.9" cy="205.1" r="3.65"/><circle cx="499.5" cy="173.5" r="3.65"/><circle cx="442.1" cy="248.5" r="3.65"/><circle cx="512.3" cy="88.2" r="3.65"/><circle cx="512.3" cy="50.0" r="3.65"/><circle cx="512.3" cy="132.1" r="3.65"/><circle cx="505.9" cy="144.5" r="3.65"/><circle cx="505.9" cy="152.6" r="3.65"/><circle cx="493.1" cy="117.4" r="3.65"/><circle cx="416.6" cy="257.8" r="3.65"/><circle cx="448.5" cy="217.2" r="3.65"/><circle cx="403.9" cy="262.3" r="3.65"/><circle cx="480.4" cy="143.6" r="3.65"/><circle cx="512.3" cy="172.7" r="3.65"/><circle cx="493.1" cy="160.4" r="3.65"/><circle cx="429.4" cy="238.0" r="3.65"/><circle cx="423.0" cy="234.9" r="3.65"/><circle cx="493.1" cy="194.0" r="3.65"/><circle cx="410.3" cy="222.4" r="3.65"/><circle cx="512.3" cy="151.7" r="3.65"/><circle cx="512.3" cy="144.8" r="3.65"/><circle cx="416.6" cy="250.5" r="3.65"/><circle cx="512.3" cy="164.0" r="3.65"/><circle cx="410.3" cy="253.6" r="3.65"/><circle cx="493.1" cy="162.8" r="3.65"/><circle cx="442.1" cy="224.1" r="3.65"/><circle cx="486.8" cy="179.0" r="3.65"/><circle cx="505.9" cy="179.5" r="3.65"/><circle cx="486.8" cy="147.7" r="3.65"/><circle cx="442.1" cy="244.5" r="3.65"/><circle cx="512.3" cy="48.0" r="3.65"/><circle cx="423.0" cy="230.4" r="3.65"/><circle cx="397.5" cy="263.0" r="3.65"/><circle cx="512.3" cy="40.0" r="3.65"/><circle cx="461.3" cy="199.6" r="3.65"/><circle cx="454.9" cy="216.7" r="3.65"/><circle cx="512.3" cy="102.7" r="3.65"/><circle cx="512.3" cy="156.3" r="3.65"/><circle cx="505.9" cy="159.0" r="3.65"/><circle cx="429.4" cy="227.5" r="3.65"/><circle cx="423.0" cy="256.4" r="3.65"/><circle cx="429.4" cy="232.9" r="3.65"/><circle cx="461.3" cy="144.0" r="3.65"/><circle cx="499.5" cy="147.7" r="3.65"/><circle cx="480.4" cy="217.1" r="3.65"/><circle cx="423.0" cy="249.6" r="3.65"/><circle cx="512.3" cy="100.0" r="3.65"/><circle cx="454.9" cy="223.3" r="3.65"/><circle cx="505.9" cy="135.0" r="3.65"/><circle cx="423.0" cy="252.1" r="3.65"/><circle cx="429.4" cy="186.4" r="3.65"/><circle cx="505.9" cy="162.7" r="3.65"/><circle cx="454.9" cy="218.8" r="3.65"/><circle cx="486.8" cy="196.5" r="3.65"/><circle cx="493.1" cy="89.7" r="3.65"/><circle cx="416.6" cy="256.7" r="3.65"/><circle cx="423.0" cy="246.9" r="3.65"/><circle cx="493.1" cy="170.2" r="3.65"/><circle cx="486.8" cy="175.8" r="3.65"/><circle cx="474.0" cy="199.0" r="3.65"/><circle cx="505.9" cy="175.3" r="3.65"/><circle cx="512.3" cy="117.3" r="3.65"/><circle cx="397.5" cy="267.6" r="3.65"/><circle cx="505.9" cy="61.7" r="3.65"/><circle cx="403.9" cy="237.2" r="3.65"/><circle cx="474.0" cy="209.2" r="3.65"/><circle cx="448.5" cy="209.2" r="3.65"/><circle cx="474.0" cy="217.1" r="3.65"/><circle cx="403.9" cy="248.7" r="3.65"/><circle cx="493.1" cy="137.9" r="3.65"/><circle cx="467.6" cy="213.7" r="3.65"/><circle cx="461.3" cy="203.1" r="3.65"/><circle cx="512.3" cy="119.1" r="3.65"/><circle cx="480.4" cy="202.0" r="3.65"/><circle cx="505.9" cy="168.0" r="3.65"/><circle cx="512.3" cy="148.2" r="3.65"/><circle cx="486.8" cy="192.3" r="3.65"/><circle cx="410.3" cy="235.7" r="3.65"/><circle cx="416.6" cy="244.5" r="3.65"/><circle cx="480.4" cy="194.0" r="3.65"/><circle cx="505.9" cy="172.2" r="3.65"/><circle cx="467.6" cy="208.0" r="3.65"/><circle cx="474.0" cy="137.6" r="3.65"/><circle cx="442.1" cy="215.5" r="3.65"/><circle cx="499.5" cy="179.4" r="3.65"/><circle cx="423.0" cy="241.2" r="3.65"/><circle cx="512.3" cy="159.7" r="3.65"/><circle cx="467.6" cy="195.6" r="3.65"/><circle cx="512.3" cy="165.5" r="3.65"/><circle cx="454.9" cy="197.3" r="3.65"/><circle cx="512.3" cy="8.5" r="3.65"/><circle cx="397.5" cy="250.0" r="3.65"/><circle cx="512.3" cy="120.7" r="3.65"/><circle cx="429.4" cy="245.9" r="3.65"/><circle cx="480.4" cy="170.3" r="3.65"/><circle cx="505.9" cy="128.2" r="3.65"/><circle cx="467.6" cy="220.4" r="3.65"/><circle cx="467.6" cy="118.6" r="3.65"/><circle cx="512.3" cy="123.9" r="3.65"/><circle cx="512.3" cy="167.8" r="3.65"/><circle cx="512.3" cy="115.2" r="3.65"/><circle cx="493.1" cy="187.5" r="3.65"/><circle cx="512.3" cy="43.5" r="3.65"/><circle cx="435.8" cy="227.2" r="3.65"/><circle cx="461.3" cy="212.2" r="3.65"/><circle cx="429.4" cy="243.5" r="3.65"/><circle cx="410.3" cy="176.7" r="3.65"/><circle cx="416.6" cy="195.4" r="3.65"/><circle cx="454.9" cy="230.3" r="3.65"/><circle cx="480.4" cy="213.0" r="3.65"/><circle cx="512.3" cy="72.5" r="3.65"/><circle cx="512.3" cy="93.9" r="3.65"/><circle cx="410.3" cy="249.2" r="3.65"/><circle cx="512.3" cy="69.4" r="3.65"/><circle cx="512.3" cy="85.4" r="3.65"/><circle cx="423.0" cy="209.6" r="3.65"/><circle cx="512.3" cy="77.4" r="3.65"/><circle cx="403.9" cy="242.6" r="3.65"/><circle cx="442.1" cy="218.1" r="3.65"/><circle cx="410.3" cy="240.0" r="3.65"/><circle cx="474.0" cy="189.2" r="3.65"/><circle cx="429.4" cy="225.2" r="3.65"/><circle cx="505.9" cy="156.4" r="3.65"/><circle cx="410.3" cy="245.1" r="3.65"/><circle cx="512.3" cy="26.2" r="3.65"/><circle cx="480.4" cy="178.2" r="3.65"/><circle cx="486.8" cy="156.6" r="3.65"/><circle cx="442.1" cy="233.0" r="3.65"/><circle cx="435.8" cy="224.5" r="3.65"/><circle cx="505.9" cy="164.5" r="3.65"/><circle cx="512.3" cy="130.0" r="3.65"/><circle cx="505.9" cy="170.1" r="3.65"/><circle cx="416.6" cy="227.7" r="3.65"/><circle cx="454.9" cy="211.5" r="3.65"/><circle cx="512.3" cy="105.1" r="3.65"/><circle cx="448.5" cy="229.4" r="3.65"/><circle cx="442.1" cy="230.5" r="3.65"/><circle cx="486.8" cy="181.6" r="3.65"/><circle cx="442.1" cy="187.0" r="3.65"/><circle cx="435.8" cy="232.4" r="3.65"/><circle cx="512.3" cy="108.9" r="3.65"/><circle cx="454.9" cy="227.3" r="3.65"/><circle cx="435.8" cy="206.8" r="3.65"/><circle cx="512.3" cy="170.2" r="3.65"/><circle cx="435.8" cy="222.5" r="3.65"/><circle cx="410.3" cy="257.7" r="3.65"/><circle cx="493.1" cy="165.1" r="3.65"/><circle cx="512.3" cy="91.7" r="3.65"/><circle cx="454.9" cy="208.0" r="3.65"/><circle cx="512.3" cy="127.2" r="3.65"/><circle cx="397.5" cy="253.2" r="3.65"/><circle cx="435.8" cy="236.0" r="3.65"/><circle cx="474.0" cy="197.5" r="3.65"/><circle cx="512.3" cy="45.1" r="3.65"/><circle cx="467.6" cy="210.5" r="3.65"/><circle cx="480.4" cy="181.4" r="3.65"/><circle cx="512.3" cy="74.9" r="3.65"/><circle cx="461.3" cy="220.9" r="3.65"/><circle cx="512.3" cy="61.9" r="3.65"/><circle cx="403.9" cy="252.7" r="3.65"/><circle cx="486.8" cy="208.0" r="3.65"/><circle cx="442.1" cy="209.0" r="3.65"/><circle cx="467.6" cy="215.8" r="3.65"/><circle cx="480.4" cy="184.0" r="3.65"/><circle cx="512.3" cy="12.5" r="3.65"/></g><g fill="#7f51a2" stroke="#724894" stroke-width="0.35"><circle cx="505.9" cy="154.7" r="3.3"/><circle cx="505.9" cy="149.3" r="3.3"/><circle cx="486.8" cy="202.0" r="3.3"/><circle cx="448.5" cy="234.2" r="3.3"/><circle cx="499.5" cy="165.4" r="3.3"/><circle cx="505.9" cy="166.1" r="3.3"/><circle cx="512.3" cy="174.6" r="3.3"/><circle cx="486.8" cy="187.8" r="3.3"/><circle cx="512.3" cy="67.7" r="3.3"/><circle cx="512.3" cy="41.5" r="3.3"/><circle cx="499.5" cy="171.2" r="3.3"/><circle cx="480.4" cy="187.9" r="3.3"/><circle cx="493.1" cy="182.6" r="3.3"/><circle cx="512.3" cy="82.9" r="3.3"/><circle cx="416.6" cy="239.4" r="3.3"/><circle cx="493.1" cy="174.1" r="3.3"/><circle cx="474.0" cy="213.0" r="3.3"/><circle cx="448.5" cy="241.0" r="3.3"/><circle cx="512.3" cy="140.4" r="3.3"/><circle cx="512.3" cy="142.8" r="3.3"/><circle cx="397.5" cy="258.7" r="3.3"/><circle cx="448.5" cy="202.9" r="3.3"/><circle cx="499.5" cy="134.2" r="3.3"/><circle cx="474.0" cy="167.9" r="3.3"/><circle cx="403.9" cy="257.5" r="3.3"/><circle cx="512.3" cy="107.3" r="3.3"/><circle cx="448.5" cy="213.0" r="3.3"/><circle cx="429.4" cy="214.5" r="3.3"/><circle cx="461.3" cy="222.2" r="3.3"/><circle cx="499.5" cy="184.0" r="3.3"/><circle cx="505.9" cy="37.7" r="3.3"/><circle cx="499.5" cy="163.0" r="3.3"/><circle cx="505.9" cy="146.7" r="3.3"/><circle cx="512.3" cy="138.6" r="3.3"/><circle cx="461.3" cy="207.9" r="3.3"/><circle cx="512.3" cy="161.8" r="3.3"/><circle cx="512.3" cy="60.0" r="3.3"/><circle cx="512.3" cy="134.1" r="3.3"/><circle cx="512.3" cy="97.1" r="3.3"/><circle cx="410.3" cy="260.8" r="3.3"/><circle cx="505.9" cy="177.3" r="3.3"/><circle cx="480.4" cy="195.2" r="3.3"/><circle cx="512.3" cy="154.3" r="3.3"/><circle cx="512.3" cy="136.1" r="3.3"/><circle cx="493.1" cy="176.4" r="3.3"/><circle cx="512.3" cy="110.6" r="3.3"/><circle cx="448.5" cy="223.6" r="3.3"/><circle cx="512.3" cy="80.6" r="3.3"/><circle cx="403.9" cy="228.4" r="3.3"/><circle cx="512.3" cy="10.4" r="3.3"/><circle cx="429.4" cy="180.3" r="3.3"/><circle cx="448.5" cy="232.1" r="3.3"/><circle cx="416.6" cy="219.5" r="3.3"/><circle cx="467.6" cy="201.0" r="3.3"/><circle cx="474.0" cy="181.9" r="3.3"/><circle cx="512.3" cy="178.0" r="3.3"/><circle cx="429.4" cy="230.6" r="3.3"/><circle cx="461.3" cy="214.5" r="3.3"/><circle cx="454.9" cy="201.6" r="3.3"/><circle cx="512.3" cy="64.3" r="3.3"/><circle cx="512.3" cy="112.3" r="3.3"/><circle cx="505.9" cy="161.0" r="3.3"/><circle cx="454.9" cy="205.1" r="3.3"/><circle cx="499.5" cy="173.5" r="3.3"/><circle cx="442.1" cy="248.5" r="3.3"/><circle cx="512.3" cy="88.2" r="3.3"/><circle cx="512.3" cy="50.0" r="3.3"/><circle cx="512.3" cy="132.1" r="3.3"/><circle cx="505.9" cy="144.5" r="3.3"/><circle cx="505.9" cy="152.6" r="3.3"/><circle cx="493.1" cy="117.4" r="3.3"/><circle cx="416.6" cy="257.8" r="3.3"/><circle cx="448.5" cy="217.2" r="3.3"/><circle cx="403.9" cy="262.3" r="3.3"/><circle cx="480.4" cy="143.6" r="3.3"/><circle cx="512.3" cy="172.7" r="3.3"/><circle cx="493.1" cy="160.4" r="3.3"/><circle cx="429.4" cy="238.0" r="3.3"/><circle cx="423.0" cy="234.9" r="3.3"/><circle cx="493.1" cy="194.0" r="3.3"/><circle cx="410.3" cy="222.4" r="3.3"/><circle cx="512.3" cy="151.7" r="3.3"/><circle cx="512.3" cy="144.8" r="3.3"/><circle cx="416.6" cy="250.5" r="3.3"/><circle cx="512.3" cy="164.0" r="3.3"/><circle cx="410.3" cy="253.6" r="3.3"/><circle cx="493.1" cy="162.8" r="3.3"/><circle cx="442.1" cy="224.1" r="3.3"/><circle cx="486.8" cy="179.0" r="3.3"/><circle cx="505.9" cy="179.5" r="3.3"/><circle cx="486.8" cy="147.7" r="3.3"/><circle cx="442.1" cy="244.5" r="3.3"/><circle cx="512.3" cy="48.0" r="3.3"/><circle cx="423.0" cy="230.4" r="3.3"/><circle cx="397.5" cy="263.0" r="3.3"/><circle cx="512.3" cy="40.0" r="3.3"/><circle cx="461.3" cy="199.6" r="3.3"/><circle cx="454.9" cy="216.7" r="3.3"/><circle cx="512.3" cy="102.7" r="3.3"/><circle cx="512.3" cy="156.3" r="3.3"/><circle cx="505.9" cy="159.0" r="3.3"/><circle cx="429.4" cy="227.5" r="3.3"/><circle cx="423.0" cy="256.4" r="3.3"/><circle cx="429.4" cy="232.9" r="3.3"/><circle cx="461.3" cy="144.0" r="3.3"/><circle cx="499.5" cy="147.7" r="3.3"/><circle cx="480.4" cy="217.1" r="3.3"/><circle cx="423.0" cy="249.6" r="3.3"/><circle cx="512.3" cy="100.0" r="3.3"/><circle cx="454.9" cy="223.3" r="3.3"/><circle cx="505.9" cy="135.0" r="3.3"/><circle cx="423.0" cy="252.1" r="3.3"/><circle cx="429.4" cy="186.4" r="3.3"/><circle cx="505.9" cy="162.7" r="3.3"/><circle cx="454.9" cy="218.8" r="3.3"/><circle cx="486.8" cy="196.5" r="3.3"/><circle cx="493.1" cy="89.7" r="3.3"/><circle cx="416.6" cy="256.7" r="3.3"/><circle cx="423.0" cy="246.9" r="3.3"/><circle cx="493.1" cy="170.2" r="3.3"/><circle cx="486.8" cy="175.8" r="3.3"/><circle cx="474.0" cy="199.0" r="3.3"/><circle cx="505.9" cy="175.3" r="3.3"/><circle cx="512.3" cy="117.3" r="3.3"/><circle cx="397.5" cy="267.6" r="3.3"/><circle cx="505.9" cy="61.7" r="3.3"/><circle cx="403.9" cy="237.2" r="3.3"/><circle cx="474.0" cy="209.2" r="3.3"/><circle cx="448.5" cy="209.2" r="3.3"/><circle cx="474.0" cy="217.1" r="3.3"/><circle cx="403.9" cy="248.7" r="3.3"/><circle cx="493.1" cy="137.9" r="3.3"/><circle cx="467.6" cy="213.7" r="3.3"/><circle cx="461.3" cy="203.1" r="3.3"/><circle cx="512.3" cy="119.1" r="3.3"/><circle cx="480.4" cy="202.0" r="3.3"/><circle cx="505.9" cy="168.0" r="3.3"/><circle cx="512.3" cy="148.2" r="3.3"/><circle cx="486.8" cy="192.3" r="3.3"/><circle cx="410.3" cy="235.7" r="3.3"/><circle cx="416.6" cy="244.5" r="3.3"/><circle cx="480.4" cy="194.0" r="3.3"/><circle cx="505.9" cy="172.2" r="3.3"/><circle cx="467.6" cy="208.0" r="3.3"/><circle cx="474.0" cy="137.6" r="3.3"/><circle cx="442.1" cy="215.5" r="3.3"/><circle cx="499.5" cy="179.4" r="3.3"/><circle cx="423.0" cy="241.2" r="3.3"/><circle cx="512.3" cy="159.7" r="3.3"/><circle cx="467.6" cy="195.6" r="3.3"/><circle cx="512.3" cy="165.5" r="3.3"/><circle cx="454.9" cy="197.3" r="3.3"/><circle cx="512.3" cy="8.5" r="3.3"/><circle cx="397.5" cy="250.0" r="3.3"/><circle cx="512.3" cy="120.7" r="3.3"/><circle cx="429.4" cy="245.9" r="3.3"/><circle cx="480.4" cy="170.3" r="3.3"/><circle cx="505.9" cy="128.2" r="3.3"/><circle cx="467.6" cy="220.4" r="3.3"/><circle cx="467.6" cy="118.6" r="3.3"/><circle cx="512.3" cy="123.9" r="3.3"/><circle cx="512.3" cy="167.8" r="3.3"/><circle cx="512.3" cy="115.2" r="3.3"/><circle cx="493.1" cy="187.5" r="3.3"/><circle cx="512.3" cy="43.5" r="3.3"/><circle cx="435.8" cy="227.2" r="3.3"/><circle cx="461.3" cy="212.2" r="3.3"/><circle cx="429.4" cy="243.5" r="3.3"/><circle cx="410.3" cy="176.7" r="3.3"/><circle cx="416.6" cy="195.4" r="3.3"/><circle cx="454.9" cy="230.3" r="3.3"/><circle cx="480.4" cy="213.0" r="3.3"/><circle cx="512.3" cy="72.5" r="3.3"/><circle cx="512.3" cy="93.9" r="3.3"/><circle cx="410.3" cy="249.2" r="3.3"/><circle cx="512.3" cy="69.4" r="3.3"/><circle cx="512.3" cy="85.4" r="3.3"/><circle cx="423.0" cy="209.6" r="3.3"/><circle cx="512.3" cy="77.4" r="3.3"/><circle cx="403.9" cy="242.6" r="3.3"/><circle cx="442.1" cy="218.1" r="3.3"/><circle cx="410.3" cy="240.0" r="3.3"/><circle cx="474.0" cy="189.2" r="3.3"/><circle cx="429.4" cy="225.2" r="3.3"/><circle cx="505.9" cy="156.4" r="3.3"/><circle cx="410.3" cy="245.1" r="3.3"/><circle cx="512.3" cy="26.2" r="3.3"/><circle cx="480.4" cy="178.2" r="3.3"/><circle cx="486.8" cy="156.6" r="3.3"/><circle cx="442.1" cy="233.0" r="3.3"/><circle cx="435.8" cy="224.5" r="3.3"/><circle cx="505.9" cy="164.5" r="3.3"/><circle cx="512.3" cy="130.0" r="3.3"/><circle cx="505.9" cy="170.1" r="3.3"/><circle cx="416.6" cy="227.7" r="3.3"/><circle cx="454.9" cy="211.5" r="3.3"/><circle cx="512.3" cy="105.1" r="3.3"/><circle cx="448.5" cy="229.4" r="3.3"/><circle cx="442.1" cy="230.5" r="3.3"/><circle cx="486.8" cy="181.6" r="3.3"/><circle cx="442.1" cy="187.0" r="3.3"/><circle cx="435.8" cy="232.4" r="3.3"/><circle cx="512.3" cy="108.9" r="3.3"/><circle cx="454.9" cy="227.3" r="3.3"/><circle cx="435.8" cy="206.8" r="3.3"/><circle cx="512.3" cy="170.2" r="3.3"/><circle cx="435.8" cy="222.5" r="3.3"/><circle cx="410.3" cy="257.7" r="3.3"/><circle cx="493.1" cy="165.1" r="3.3"/><circle cx="512.3" cy="91.7" r="3.3"/><circle cx="454.9" cy="208.0" r="3.3"/><circle cx="512.3" cy="127.2" r="3.3"/><circle cx="397.5" cy="253.2" r="3.3"/><circle cx="435.8" cy="236.0" r="3.3"/><circle cx="474.0" cy="197.5" r="3.3"/><circle cx="512.3" cy="45.1" r="3.3"/><circle cx="467.6" cy="210.5" r="3.3"/><circle cx="480.4" cy="181.4" r="3.3"/><circle cx="512.3" cy="74.9" r="3.3"/><circle cx="461.3" cy="220.9" r="3.3"/><circle cx="512.3" cy="61.9" r="3.3"/><circle cx="403.9" cy="252.7" r="3.3"/><circle cx="486.8" cy="208.0" r="3.3"/><circle cx="442.1" cy="209.0" r="3.3"/><circle cx="467.6" cy="215.8" r="3.3"/><circle cx="480.4" cy="184.0" r="3.3"/><circle cx="512.3" cy="12.5" r="3.3"/></g>
</g>
<g stroke="#7a7a7a" stroke-width="1.8" stroke-dasharray="7.5 6.5">
<line x1="155.7" y1="5" x2="155.7" y2="488"/>
<line x1="276.5" y1="5" x2="276.5" y2="488"/>
<line x1="388" y1="5" x2="388" y2="488"/>
</g>
<g stroke="#000" stroke-width="2.6" fill="none">
<path d="M42.3,478 V5.5 H517.6 V476.7 H41"/>
<line x1="35.2" y1="5.4" x2="42.3" y2="5.4" stroke-width="2"/>
<line x1="35.2" y1="162.5" x2="42.3" y2="162.5" stroke-width="2"/>
<line x1="35.2" y1="320.3" x2="42.3" y2="320.3" stroke-width="2"/>
<line x1="42.3" y1="476.7" x2="42.3" y2="485.7" stroke-width="2"/>
<line x1="511.1" y1="476.7" x2="511.1" y2="485.7" stroke-width="2"/>
</g>
<g font-size="10.5" fill="#111" stroke="#111" stroke-width="0.4" text-anchor="end">
<text x="33.5" y="9.2">30</text>
<text x="33" y="166.6">20</text>
<text x="33" y="323.9">10</text>
</g>
<g font-size="10.2" fill="#111" stroke="#111" stroke-width="0.3" text-anchor="middle">
<text transform="translate(42.3,499) scale(1.08,1)">0</text>
<text transform="translate(157.5,501.5) scale(1.08,1)">0.25</text>
<text transform="translate(278.7,501.5) scale(1.08,1)">0.50</text>
<text transform="translate(387.8,501.5) scale(1.08,1)">0.75</text>
<text transform="translate(510.4,500.3) scale(1.08,1)">1</text>
</g>
<g font-size="17" font-weight="bold" fill="#111" stroke="#111" stroke-width="0.35" text-anchor="middle">
<text x="101.8" y="36.3">Rare</text>
<text x="220.6" y="34.3">Infrequent</text>
<text x="333.1" y="34.3">Moderate</text>
<text x="452.5" y="34.3">Common</text>
</g>
<g font-size="14.6" fill="#111" stroke="#111" stroke-width="0.3" text-anchor="middle">
<text transform="translate(101.8,56.7) scale(1.1,1)">n = 1123</text>
<text transform="translate(220.7,55) scale(1.1,1)">n = 332</text>
<text transform="translate(333.1,55) scale(1.1,1)">n = 235</text>
<text transform="translate(452.2,55) scale(1.1,1)">n = 444</text>
</g>
<text transform="translate(284.1,530.4) scale(1.1,1)" font-size="15.2" font-weight="bold" stroke="#111" stroke-width="0.5" text-anchor="middle" fill="#111">Detected in Samples (%)</text>
<text transform="translate(13.2,246.9) rotate(-90) scale(1.1,1)" font-size="14.8" font-weight="bold" stroke="#111" stroke-width="0.5" text-anchor="middle" fill="#111">Mean Expression (log2(Reads +1))</text>
</svg>
</body></html>
